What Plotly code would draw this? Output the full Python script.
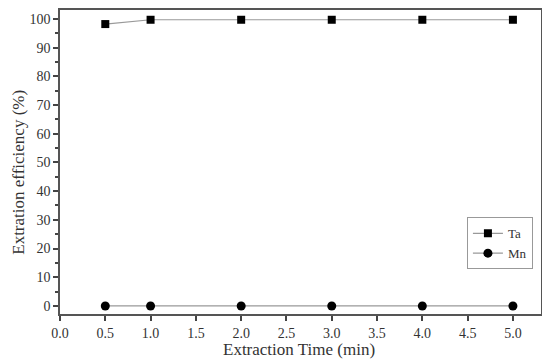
import plotly.graph_objects as go

time = [0.5, 1.0, 2.0, 3.0, 4.0, 5.0]
ta = [98.2, 99.7, 99.7, 99.7, 99.7, 99.7]
mn = [0, 0, 0, 0, 0, 0]
x_ticks = [0.0, 0.5, 1.0, 1.5, 2.0, 2.5, 3.0, 3.5, 4.0, 4.5, 5.0]
y_ticks = [0, 10, 20, 30, 40, 50, 60, 70, 80, 90, 100]

font = "Liberation Serif, Times New Roman, serif"
fig = go.Figure()
fig.add_trace(go.Scatter(x=time, y=ta, name="Ta", mode="lines+markers",
                         line=dict(color="#999999", width=1.2),
                         marker=dict(symbol="square", size=8, color="black")))
fig.add_trace(go.Scatter(x=time, y=mn, name="Mn", mode="lines+markers",
                         line=dict(color="#999999", width=1.2),
                         marker=dict(symbol="circle", size=9, color="black")))

# page body has an 8px margin, so the figure is a little smaller than the window
fig.update_layout(
    width=542, height=356,
    margin=dict(l=52, r=9, t=2, b=50),
    plot_bgcolor="white", paper_bgcolor="white",
    font=dict(family=font, color="#333333", size=14),
    showlegend=True,
    legend=dict(x=0.846, y=0.318, xanchor="left", yanchor="top",
                bordercolor="#999999", borderwidth=1, bgcolor="white",
                font=dict(size=13, color="#333333"),
                tracegroupgap=0),
    xaxis=dict(range=[0, 5.31], tickvals=x_ticks,
               ticktext=[f"{v:.1f}" for v in x_ticks],
               ticks="outside", ticklen=5, tickwidth=1.5, tickcolor="#444444",
               showline=True, linecolor="#555555", linewidth=1.5, mirror=True,
               showgrid=False, zeroline=False, automargin=False),
    yaxis=dict(range=[-2.8, 103.1], tickvals=y_ticks,
               ticks="outside", ticklen=5, tickwidth=1.5, tickcolor="#444444",
               minor=dict(dtick=5, tick0=0, ticks="outside", ticklen=3, tickcolor="#444444"),
               showline=True, linecolor="#555555", linewidth=1.5, mirror=True,
               showgrid=False, zeroline=False, automargin=False),
    annotations=[
        dict(text="Extraction Time (min)", xref="paper", yref="paper",
             x=0.497, y=-0.118, xanchor="center", yanchor="middle", showarrow=False,
             font=dict(size=17, color="#333333")),
        dict(text="Extration efficiency (%)", xref="paper", yref="paper",
             x=-0.085, y=0.465, xanchor="center", yanchor="middle", showarrow=False,
             textangle=-90, font=dict(size=17, color="#333333")),
    ],
)
fig.write_html("out.html")
